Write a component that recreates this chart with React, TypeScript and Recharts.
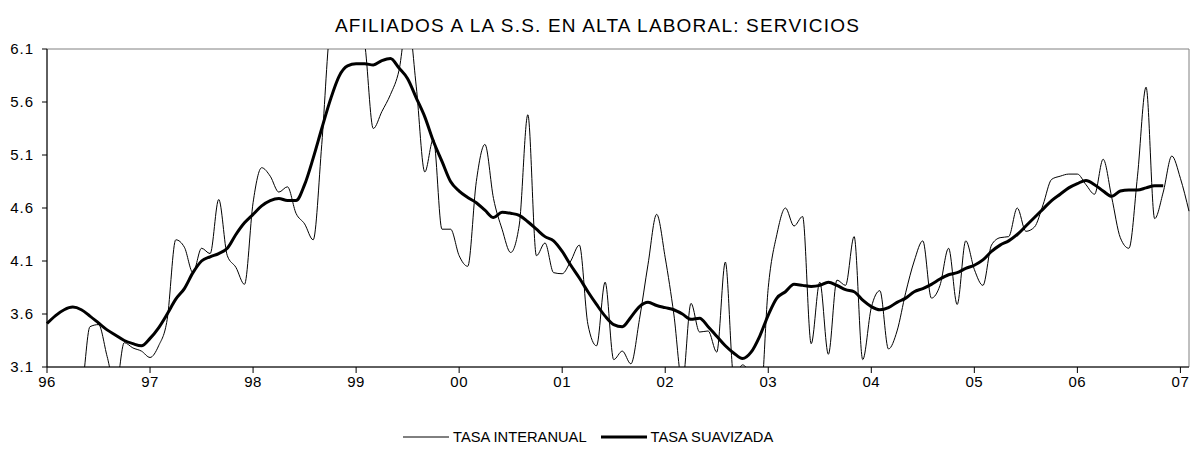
import { LineChart, Line, XAxis, YAxis, ReferenceArea } from 'recharts'

// monthly series, Jan 1996 .. Feb 2007
const tasaInteranual = [
  2.9, 2.8, 2.8, 2.85, 2.9, 3.48, 3.5, 3.2, 2.9, 3.33, 3.28, 3.25,
  3.19, 3.3, 3.55, 4.3, 4.23, 3.99, 4.22, 4.17, 4.68, 4.15, 4.04, 3.88,
  4.65, 4.98, 4.9, 4.75, 4.8, 4.55, 4.45, 4.3, 5.2, 6.3, 6.5, 6.6,
  6.4, 6.15, 5.35, 5.51, 5.67, 5.9, 6.4, 5.75, 4.94, 5.25, 4.4, 4.4,
  4.15, 4.05, 4.85, 5.2, 4.69, 4.4, 4.18, 4.44, 5.48, 4.15, 4.27, 3.99,
  3.98, 4.1, 4.25, 3.5, 3.3, 3.9, 3.17, 3.25, 3.13, 3.55, 4.07, 4.54,
  4.13, 3.6, 2.95, 3.7, 3.43, 3.44, 3.24, 4.09, 3.0, 3.12, 3.0, 2.7,
  3.85, 4.35, 4.6, 4.43, 4.52, 3.32, 3.9, 3.22, 3.92, 3.87, 4.33, 3.17,
  3.66, 3.82, 3.27, 3.44, 3.8, 4.1, 4.29, 3.75, 3.87, 4.22, 3.69, 4.29,
  4.02, 3.87, 4.25, 4.32, 4.33, 4.6, 4.38, 4.42, 4.63, 4.87, 4.9, 4.92,
  4.92, 4.82, 4.73, 5.06, 4.7, 4.32, 4.22, 4.9, 5.74, 4.5, 4.75, 5.09,
  4.88, 4.57,
]

const tasaSuavizada = [
  3.51, 3.585, 3.64, 3.665, 3.64, 3.58, 3.515, 3.45, 3.4, 3.35, 3.32, 3.3,
  3.37, 3.47, 3.6, 3.74, 3.84, 3.99, 4.1, 4.14, 4.17, 4.22, 4.35, 4.46,
  4.54, 4.62, 4.67, 4.69, 4.67, 4.67, 4.82, 5.07, 5.35, 5.62, 5.84, 5.94,
  5.96, 5.96, 5.95, 5.99, 6.01, 5.92, 5.82, 5.64, 5.46, 5.23, 5.04, 4.85,
  4.76, 4.7, 4.65, 4.58, 4.51, 4.56, 4.55, 4.53, 4.47, 4.4, 4.33, 4.29,
  4.19, 4.06, 3.94, 3.81, 3.69, 3.58, 3.5, 3.48, 3.57, 3.67, 3.71, 3.68,
  3.66, 3.64, 3.6, 3.55, 3.56, 3.48, 3.39, 3.3, 3.23, 3.18, 3.24, 3.39,
  3.59, 3.75, 3.81, 3.88, 3.87, 3.86, 3.87, 3.9, 3.87, 3.83, 3.81, 3.73,
  3.67, 3.64, 3.66, 3.71, 3.75, 3.81, 3.84, 3.88, 3.93, 3.97, 3.99, 4.03,
  4.06, 4.11, 4.19, 4.25, 4.29, 4.35, 4.43, 4.51, 4.59, 4.67, 4.73, 4.79,
  4.83, 4.86, 4.82, 4.76, 4.71, 4.76, 4.77, 4.77, 4.79, 4.81, 4.81,
]

const yearLabels = ['96', '97', '98', '99', '00', '01', '02', '03', '04', '05', '06', '07']
const yearTicks = [0, 12, 24, 36, 48, 60, 72, 84, 96, 108, 120, 132]
const yTicks = [3.1, 3.6, 4.1, 4.6, 5.1, 5.6, 6.1]

const data = tasaInteranual.map((v, i) => ({
  m: i,
  interanual: v,
  suavizada: i < tasaSuavizada.length ? tasaSuavizada[i] : null,
}))

const font = '"Liberation Sans", Arial, sans-serif'

export default function App() {
  return (
    <div style={{ position: 'absolute', left: 0, top: 0, width: 1195, height: 450, background: '#fff', fontFamily: font }}>
      <div style={{ position: 'absolute', top: 15, left: 0, width: 1195, textAlign: 'center', fontSize: 19, letterSpacing: 1.2, color: '#000' }}>
        AFILIADOS A LA S.S. EN ALTA LABORAL: SERVICIOS
      </div>
      <LineChart width={1195} height={450} data={data} margin={{ top: 49, right: 6, bottom: 53, left: 0 }}>
        <ReferenceArea x1={0} x2={133} y1={3.1} y2={6.1} stroke="#808080" strokeWidth={1} fill="none" />
        <XAxis
          dataKey="m"
          type="number"
          domain={[0, 133]}
          ticks={yearTicks}
          tickFormatter={(v) => yearLabels[yearTicks.indexOf(v)]}
          height={30}
          tickSize={6}
          tickMargin={3}
          stroke="#000"
          tick={{ fontSize: 15, letterSpacing: 0.5, fill: '#000', fontFamily: font }}
        />
        <YAxis
          type="number"
          domain={[3.1, 6.1]}
          ticks={yTicks}
          allowDataOverflow
          width={47}
          tickSize={5}
          tickMargin={8}
          stroke="#000"
          tickFormatter={(v) => v.toFixed(1)}
          tick={{ fontSize: 15, letterSpacing: 1, fill: '#000', fontFamily: font }}
        />
        <Line type="monotone" dataKey="interanual" stroke="#000" strokeWidth={1} dot={false} isAnimationActive={false} />
        <Line type="monotone" dataKey="suavizada" stroke="#000" strokeWidth={3} dot={false} isAnimationActive={false} />
      </LineChart>
      <div style={{ position: 'absolute', top: 428, left: 403, display: 'flex', alignItems: 'center', fontSize: 14.7, color: '#000', whiteSpace: 'nowrap' }}>
        <svg width={46} height={18}><line x1={0} y1={9} x2={46} y2={9} stroke="#000" strokeWidth={1} /></svg>
        <span style={{ marginLeft: 4, marginRight: 14 }}>TASA INTERANUAL</span>
        <svg width={46} height={18}><line x1={0} y1={9} x2={46} y2={9} stroke="#000" strokeWidth={3} /></svg>
        <span style={{ marginLeft: 4 }}>TASA SUAVIZADA</span>
      </div>
    </div>
  )
}
